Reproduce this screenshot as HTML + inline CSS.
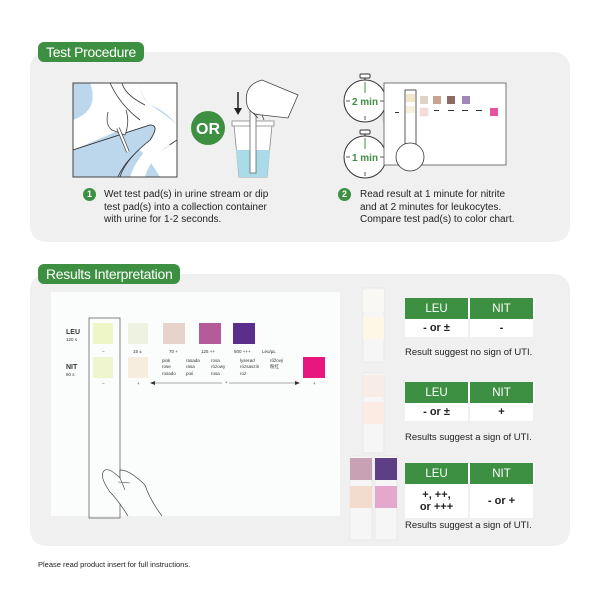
<!DOCTYPE html>
<html><head><meta charset="utf-8"><style>
body{margin:0;width:600px;height:600px;background:#fff;position:relative;font-family:"Liberation Sans",sans-serif;overflow:hidden}
.a{position:absolute}
.panel{position:absolute;background:#f0f0f0;border-radius:16px}
.pill{position:absolute;background:#3d8f41;color:#fff;font-size:14px;border-radius:6px;padding:0 8px;line-height:20px;letter-spacing:-0.3px}
.num{position:absolute;width:13px;height:13px;border-radius:50%;background:#3d8f41;color:#fff;font-size:9px;font-weight:bold;text-align:center;line-height:13px}
.step{position:absolute;font-size:10px;line-height:12.5px;color:#222}
table{position:absolute;border-collapse:collapse;font-size:11px}
td{width:63px;text-align:center;padding:0}
th{background:#3d8f41;color:#fff;font-weight:normal;font-size:11.5px;height:19px;border-right:2px solid #fff}
td{background:#fff;height:18px;border-right:2px solid #f0f0f0;font-weight:bold;color:#222}
.res{position:absolute;font-size:9.5px;color:#222}
</style></head><body>
<div class="panel" style="left:30px;top:52px;width:540px;height:190px"></div>
<div class="pill" style="left:38px;top:42px">Test Procedure</div>
<div class="panel" style="left:30px;top:274px;width:540px;height:272px"></div>
<div class="pill" style="left:38px;top:264px">Results Interpretation</div>

<svg class="a" style="left:0;top:0" width="600" height="600">
<!-- illustration 1 -->
<rect x="73" y="83" width="104" height="94" fill="#bcd6ec"/>
<path d="M90,83 L177,83 L177,125 Q165,110 150,105 Q140,95 140,83 Z" fill="#fff"/>
<path d="M90,83 Q100,110 110,125 L73,140 L73,83 Z" fill="#bcd6ec"/>
<path d="M90,83 L140,83 Q140,100 155,108 Q170,118 177,125 L177,177 L160,177 Q150,160 140,150 L120,130 L73,150 L73,120 Q100,110 90,83Z" fill="#fff"/>
<path d="M73,150 L150,125 Q160,125 150,140 Q125,160 120,177 L140,177 Q145,160 177,140" fill="none" stroke="#333" stroke-width="0.8"/>
<path d="M73,150 L150,125 Q160,125 150,140 Q125,160 118,177 L73,177Z" fill="#bcd6ec" stroke="#333" stroke-width="0.8"/>
<path d="M155,140 Q135,160 130,177 L145,177 Q150,158 170,145Z" fill="#fff"/>
<path d="M110,83 Q120,105 140,120" fill="none" stroke="#333" stroke-width="0.8"/>
<path d="M122,83 Q125,95 145,105" fill="none" stroke="#333" stroke-width="0.8"/>
<path d="M108,112 Q105,125 112,130 L125,135 Q130,122 126,110" fill="#fff" stroke="#444" stroke-width="0.8"/>
<line x1="118" y1="128" x2="128" y2="152" stroke="#444" stroke-width="3.5"/>
<line x1="118" y1="128" x2="128" y2="152" stroke="#fff" stroke-width="2"/>
<rect x="73" y="83" width="104" height="94" fill="none" stroke="#444"/>
<circle cx="208" cy="128" r="17" fill="#3d8f41"/>
<text x="208" y="134" font-family="Liberation Sans" font-weight="bold" font-size="16" fill="#fff" text-anchor="middle">OR</text>
<!-- cup -->
<path d="M234,125 L272,125 L267,177 L239,177 Z" fill="#fff" stroke="#888" stroke-width="0.8"/>
<path d="M236,150 L270,150 L267,177 L239,177 Z" fill="#a9dbe9"/>
<rect x="232" y="121" width="42" height="5" fill="#fff" stroke="#888" stroke-width="0.8"/>
<rect x="250" y="110" width="6" height="63" fill="#fff" stroke="#666" stroke-width="0.8"/>
<path d="M247,105 Q243,85 262,80 L298,95 L288,118 L262,115 Q250,115 247,105Z" fill="#fff" stroke="#444" stroke-width="0.8"/>
<path d="M253,113 L258,118 M262,115 L264,120" stroke="#444" stroke-width="0.8"/>
<line x1="238" y1="92" x2="238" y2="110" stroke="#222" stroke-width="1.5"/>
<path d="M234,108 L238,115 L242,108Z" fill="#222"/>
<!-- clocks -->
<polygon points="378,95 384,86 384,125 378,108" fill="#ddd"/>
<polygon points="378,150 405,130 410,140 382,165" fill="#ddd"/>
<g fill="#fff" stroke="#333" stroke-width="1">
<rect x="360" y="74" width="10" height="4" rx="1"/><line x1="365" y1="78" x2="365" y2="80"/><circle cx="365" cy="101" r="21"/>
<rect x="360" y="130" width="10" height="4" rx="1"/><line x1="365" y1="134" x2="365" y2="136"/><circle cx="365" cy="157" r="21"/>
</g>
<g stroke="#333" stroke-width="0.8">
<line x1="346" y1="101" x2="350" y2="101"/><line x1="380" y1="101" x2="384" y2="101"/><line x1="365" y1="116" x2="365" y2="120"/>
<line x1="346" y1="157" x2="350" y2="157"/><line x1="380" y1="157" x2="384" y2="157"/><line x1="365" y1="172" x2="365" y2="176"/>
</g>
<line x1="365" y1="82" x2="365" y2="93" stroke="#3d8f41"/><line x1="365" y1="138" x2="365" y2="149" stroke="#3d8f41"/>
<text x="365" y="105" font-size="10" font-weight="bold" fill="#3d8f41" text-anchor="middle" font-family="Liberation Sans">2 min</text>
<text x="365" y="161" font-size="10" font-weight="bold" fill="#3d8f41" text-anchor="middle" font-family="Liberation Sans">1 min</text>
<rect x="384" y="83" width="122" height="82" fill="#fff" stroke="#555" stroke-width="0.8"/>
<rect x="405" y="90" width="11" height="58" fill="#fff" stroke="#333" stroke-width="0.8"/>
<rect x="406" y="94" width="9" height="8" fill="#eee8c8"/><rect x="406" y="106" width="9" height="7" fill="#f6f1dc"/>
<circle cx="410" cy="157" r="14" fill="#fff" stroke="#333" stroke-width="0.8"/>
<rect x="420" y="96" width="8" height="8" fill="#e0d2c4"/><rect x="433" y="96" width="8" height="8" fill="#c8a394"/>
<rect x="447" y="96" width="8" height="8" fill="#8c6a66"/><rect x="462" y="96" width="8" height="8" fill="#9f88b8"/>
<rect x="420" y="108" width="8" height="8" fill="#f7dada" stroke="#ddd" stroke-width="0.5"/><rect x="490" y="108" width="8" height="8" fill="#e2549d"/>
<g fill="#333"><rect x="434" y="110" width="5" height="1"/><rect x="448" y="110" width="6" height="1"/><rect x="462" y="110" width="6" height="1"/><rect x="476" y="110" width="6" height="1"/><rect x="395" y="112" width="4" height="1"/></g>
<!-- results chart -->
<rect x="51" y="292" width="289" height="224" fill="#fbfdfd"/>
<rect x="89" y="318" width="31" height="200" fill="none" stroke="#666" stroke-width="0.8"/>
<rect x="93" y="323" width="20" height="21" fill="#eef6c6"/><rect x="93" y="357" width="20" height="21" fill="#eef5cf"/>
<rect x="128" y="323" width="20" height="21" fill="#eef2e1"/><rect x="128" y="357" width="20" height="21" fill="#f7eddf"/>
<rect x="163" y="323" width="22" height="21" fill="#e6d3cc"/>
<rect x="199" y="323" width="22" height="21" fill="#b55b9a"/>
<rect x="233" y="323" width="22" height="21" fill="#5c2e8c"/>
<rect x="303" y="357" width="22" height="21" fill="#e8177f"/>
<g font-family="Liberation Sans" fill="#333">
<text x="66" y="334" font-size="7" font-weight="bold">LEU</text><text x="66" y="341" font-size="4.5">120 s</text>
<text x="66" y="369" font-size="7" font-weight="bold">NIT</text><text x="66" y="376" font-size="4.5">60 s</text>
<g font-size="4.5"><text x="102" y="353">–</text><text x="133" y="353">15 ±</text><text x="169" y="353">70 +</text><text x="201" y="353">125 ++</text><text x="234" y="353">500 +++</text><text x="262" y="353">Leu/µL</text>
<text x="162" y="362">pink</text><text x="162" y="368">rose</text><text x="162" y="375">rosado</text>
<text x="186" y="362">rasada</text><text x="186" y="368">rasa</text><text x="186" y="375">pоќ</text>
<text x="211" y="362">rosa</text><text x="211" y="368">różowy</text><text x="211" y="375">rosa</text>
<text x="240" y="362">lyserød</text><text x="240" y="368">rózsaszín</text><text x="240" y="375">roz</text>
<text x="270" y="362">růžový</text><text x="270" y="368">粉红</text>
<text x="102" y="385">–</text><text x="137" y="385">+</text><text x="225" y="384">+</text><text x="313" y="385">+</text></g>
</g>
<line x1="152" y1="383" x2="222" y2="383" stroke="#555" stroke-width="0.6"/><line x1="229" y1="383" x2="298" y2="383" stroke="#555" stroke-width="0.6"/>
<path d="M150,383 L155,381 L155,385Z M300,383 L295,381 L295,385Z" fill="#333"/>
<path d="M128,516 Q118,500 110,492 Q98,475 105,470 Q110,468 120,478 L120,470 Q130,470 145,485 Q150,500 162,516" fill="#fbfdfd" stroke="#444" stroke-width="0.7"/>
<path d="M120,478 L125,490 M118,482 L130,483" stroke="#444" stroke-width="0.6"/>
<!-- strips -->
<rect x="363" y="288" width="21" height="74" fill="#f6f6f6" stroke="#ddd" stroke-width="0.5"/>
<rect x="363" y="290" width="21" height="22" fill="#f9f8f4"/><rect x="363" y="317" width="21" height="22" fill="#fdf8e6"/>
<rect x="363" y="373" width="21" height="80" fill="#f6f6f6" stroke="#ddd" stroke-width="0.5"/>
<rect x="363" y="375" width="21" height="22" fill="#f8ece6"/><rect x="363" y="402" width="21" height="22" fill="#fbebe2"/>
<rect x="350" y="456" width="22" height="84" fill="#f6f6f6" stroke="#ddd" stroke-width="0.5"/>
<rect x="375" y="456" width="22" height="84" fill="#f6f6f6" stroke="#ddd" stroke-width="0.5"/>
<rect x="350" y="458" width="22" height="22" fill="#c9a1b5"/><rect x="375" y="458" width="22" height="22" fill="#5e3f86"/>
<rect x="350" y="486" width="22" height="22" fill="#f3dccd"/><rect x="375" y="486" width="22" height="22" fill="#e5a8cd"/>
</svg>

<div class="num" style="left:83px;top:188px">1</div>
<div class="step" style="left:104px;top:189px">Wet test pad(s) in urine stream or dip<br>test pad(s) into a collection container<br>with urine for 1-2 seconds.</div>
<div class="num" style="left:338px;top:188px">2</div>
<div class="step" style="left:360px;top:189px">Read result at 1 minute for nitrite<br>and at 2 minutes for leukocytes.<br>Compare test pad(s) to color chart.</div>

<table style="left:405px;top:298px"><tr><th>LEU</th><th>NIT</th></tr><tr><td>- or ±</td><td>-</td></tr></table>
<div class="res" style="left:405px;top:347px">Result suggest no sign of UTI.</div>
<table style="left:405px;top:382px"><tr><th>LEU</th><th>NIT</th></tr><tr><td>- or ±</td><td>+</td></tr></table>
<div class="res" style="left:405px;top:432px">Results suggest a sign of UTI.</div>
<table style="left:405px;top:463px"><tr><th>LEU</th><th>NIT</th></tr><tr><td style="height:34px;line-height:12px">+, ++,<br>or +++</td><td style="height:34px">- or +</td></tr></table>
<div class="res" style="left:405px;top:520px">Results suggest a sign of UTI.</div>

<div class="a" style="left:38px;top:560px;font-size:7.5px;color:#222">Please read product insert for full instructions.</div>
</body></html>
